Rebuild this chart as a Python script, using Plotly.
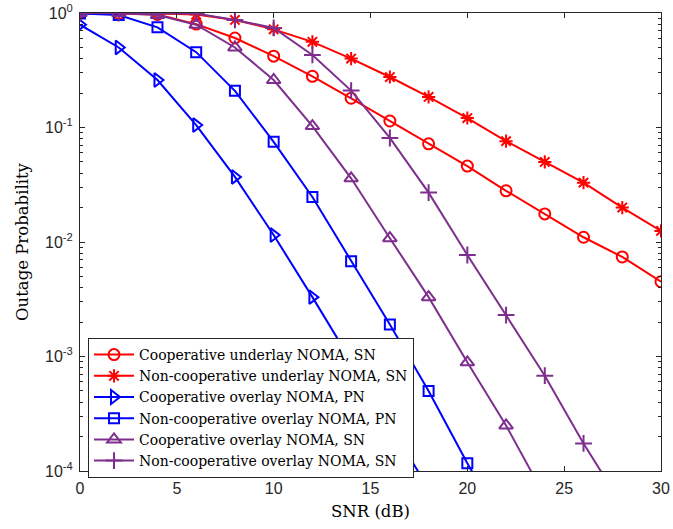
import plotly.graph_objects as go

snr = [0, 2, 4, 6, 8, 10, 12, 14, 16, 18, 20, 22, 24, 26, 28, 30]

coop_underlay_sn = [1.0, 0.99, 0.97, 0.80, 0.605, 0.42, 0.28, 0.18, 0.114, 0.072, 0.046, 0.028, 0.0176, 0.011, 0.0074, 0.0045]
noncoop_underlay_sn = [1.0, 1.0, 0.99, 0.97, 0.87, 0.72, 0.56, 0.40, 0.276, 0.185, 0.121, 0.076, 0.050, 0.033, 0.020, 0.0125]
coop_overlay_pn = [0.79, 0.50, 0.26, 0.105, 0.037, 0.0115, 0.0033, 0.00091, 0.00025, 0.00007]
noncoop_overlay_pn = [0.99, 0.96, 0.75, 0.455, 0.209, 0.075, 0.0247, 0.0068, 0.0019, 0.0005, 0.000117, 0.00003]
coop_overlay_sn = [1.0, 1.0, 0.96, 0.79, 0.50, 0.26, 0.103, 0.036, 0.0108, 0.0033, 0.00089, 0.00025, 0.00006]
noncoop_overlay_sn = [1.0, 1.0, 1.0, 0.99, 0.87, 0.74, 0.43, 0.21, 0.081, 0.027, 0.0077, 0.0023, 0.00068, 0.000174, 0.00005]

names = [
    "Cooperative underlay NOMA, SN",
    "Non-cooperative underlay NOMA, SN",
    "Cooperative overlay NOMA, PN",
    "Non-cooperative overlay NOMA, PN",
    "Cooperative overlay NOMA, SN",
    "Non-cooperative overlay NOMA, SN",
]
series = [coop_underlay_sn, noncoop_underlay_sn, coop_overlay_pn,
          noncoop_overlay_pn, coop_overlay_sn, noncoop_overlay_sn]
colors = ["#FF0000", "#FF0000", "#0000FF", "#0000FF", "#7E2F8E", "#7E2F8E"]
symbols = ["circle-open", "asterisk-open", "triangle-right-open",
           "square-open", "triangle-up-open", "cross-thin-open"]
sizes = [11, 11, 12, 10, 12, 12]

SERIF = "'DejaVu Serif', 'Liberation Serif', serif"
SANS = "'Liberation Sans', Arial, sans-serif"

fig = go.Figure()
for name, ys, c, s, sz in zip(names, series, colors, symbols, sizes):
    fig.add_trace(go.Scatter(
        x=snr[:len(ys)], y=ys, name=name, mode="lines+markers",
        line=dict(color=c, width=2),
        marker=dict(symbol=s, size=sz, color=c, line=dict(color=c, width=2)),
    ))

ytickvals = [1, 0.1, 0.01, 0.001, 0.0001]
yticktext = ["10<sup>0</sup>", "10<sup>-1</sup>", "10<sup>-2</sup>", "10<sup>-3</sup>", "10<sup>-4</sup>"]
minor_vals = [m * 10 ** e for e in range(-4, 0) for m in range(2, 10)]

fig.update_layout(
    width=673, height=529,
    margin=dict(l=80, r=12, t=13, b=58, autoexpand=False),
    paper_bgcolor="white", plot_bgcolor="white",
    font=dict(family=SANS, size=16, color="#262626"),
    showlegend=True,
    legend=dict(
        x=0.0138, y=0.2904, xanchor="left", yanchor="top",
        bgcolor="white", bordercolor="#262626", borderwidth=1,
        font=dict(family=SERIF, size=14, color="#000000"),
        tracegroupgap=0, itemwidth=40,
    ),
)
fig.update_xaxes(
    range=[0, 30], tickvals=[0, 5, 10, 15, 20, 25, 30],
    ticks="inside", ticklen=5, tickcolor="#262626",
    ticklabeloverflow="allow", ticklabelstandoff=3,
    showline=True, linecolor="#262626", linewidth=1, mirror="ticks",
    showgrid=False, zeroline=False, automargin=False,
    title=dict(text="SNR (dB)", font=dict(family=SERIF, size=16.5, color="#000000"), standoff=9),
)
fig.update_yaxes(
    type="log", range=[-4, 0],
    tickvals=ytickvals, ticktext=yticktext,
    ticks="inside", ticklen=5, tickcolor="#262626",
    ticklabeloverflow="allow", ticklabelstandoff=3,
    minor=dict(tickvals=minor_vals, ticks="inside", ticklen=3, tickcolor="#262626"),
    showline=True, linecolor="#262626", linewidth=1, mirror="ticks",
    showgrid=False, zeroline=False, automargin=False,
    title=dict(text="Outage Probability", font=dict(family=SERIF, size=16.5, color="#000000"), standoff=12),
)

fig.write_html("out.html", config={"displayModeBar": False},
               post_script="document.body.style.margin='0px';")
